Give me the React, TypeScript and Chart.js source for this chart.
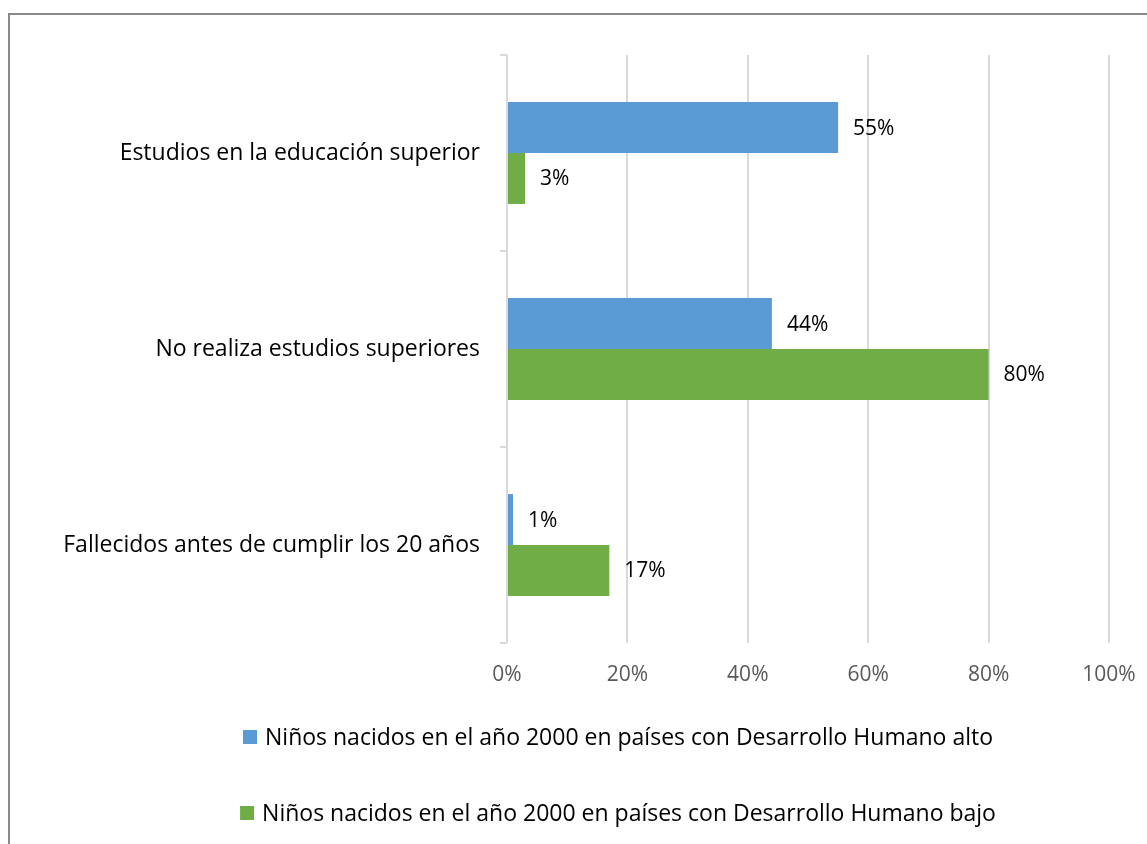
import React, { useEffect, useRef } from "react";
import { Chart, registerables } from "chart.js";

Chart.register(...registerables);

const categories = [
  "Estudios en la educación superior",
  "No realiza estudios superiores",
  "Fallecidos antes de cumplir los 20 años",
];
const seriesNames = [
  "Niños nacidos en el año 2000 en países con Desarrollo Humano alto",
  "Niños nacidos en el año 2000 en países con Desarrollo Humano bajo",
];
const highValues = [55, 44, 1];
const lowValues = [3, 80, 17];
const seriesColors = ["#5B9BD5", "#70AD47"];
const xTicks = [0, 20, 40, 60, 80, 100];

const FONT = '"Open Sans", Lato, sans-serif';

const dataLabelPlugin = {
  id: "dataLabels",
  afterDatasetsDraw(chart: any) {
    const ctx = chart.ctx;
    ctx.save();
    ctx.font = `21px ${FONT}`;
    ctx.fillStyle = "#000000";
    ctx.textAlign = "left";
    ctx.textBaseline = "middle";
    chart.data.datasets.forEach((ds: any, di: number) => {
      const meta = chart.getDatasetMeta(di);
      meta.data.forEach((bar: any, i: number) => {
        ctx.fillText(`${ds.data[i]}%`, bar.x + 15, bar.y + 1);
      });
    });
    ctx.restore();
  },
};

const legendPlugin = {
  id: "customLegend",
  afterDraw(chart: any) {
    const ctx = chart.ctx;
    ctx.save();
    ctx.font = `23px ${FONT}`;
    ctx.textBaseline = "middle";
    ctx.textAlign = "left";
    const rows = [722, 798];
    const centerX = 608;
    chart.data.datasets.forEach((ds: any, i: number) => {
      const label = ds.label as string;
      const tw = ctx.measureText(label).width;
      const total = 14 + 8 + tw;
      const x0 = centerX - total / 2;
      const y = rows[i];
      ctx.fillStyle = ds.backgroundColor;
      ctx.fillRect(x0, y - 7, 14, 14);
      ctx.fillStyle = "#000000";
      ctx.fillText(label, x0 + 22, y + 1);
    });
    ctx.restore();
  },
};

export default function App() {
  const canvasRef = useRef<HTMLCanvasElement | null>(null);

  useEffect(() => {
    if (!canvasRef.current) return;
    const chart = new Chart(canvasRef.current, {
      type: "bar",
      data: {
        labels: categories,
        datasets: [
          {
            label: seriesNames[0],
            data: highValues,
            backgroundColor: seriesColors[0],
            categoryPercentage: 0.52,
            barPercentage: 1,
          },
          {
            label: seriesNames[1],
            data: lowValues,
            backgroundColor: seriesColors[1],
            categoryPercentage: 0.52,
            barPercentage: 1,
          },
        ],
      },
      options: {
        indexAxis: "y",
        animation: false,
        responsive: false,
        devicePixelRatio: 1,
        layout: { padding: { top: 40, right: 38, left: 0, bottom: 0 } },
        plugins: {
          legend: { display: false },
          tooltip: { enabled: false },
        },
        scales: {
          x: {
            min: 0,
            max: 100,
            afterBuildTicks: (scale: any) => {
              scale.ticks = xTicks.map((v) => ({ value: v }));
            },
            afterFit: (scale: any) => {
              scale.height = 201;
              scale.paddingLeft = 0;
              scale.paddingRight = 0;
            },
            grid: {
              color: "#D9D9D9",
              lineWidth: 2,
              drawTicks: false,
            },
            border: { display: false },
            ticks: {
              padding: 19,
              color: "#595959",
              font: { family: FONT, size: 21 },
              callback: (v: any) => `${v}%`,
            },
          },
          y: {
            afterFit: (scale: any) => {
              scale.width = 497;
            },
            grid: {
              offset: true,
              drawOnChartArea: false,
              drawTicks: true,
              tickLength: 7,
              color: "#D9D9D9",
              lineWidth: 2,
            },
            border: { display: false },
            ticks: {
              padding: 20,
              color: "#000000",
              font: { family: FONT, size: 23 },
            },
          },
        },
      },
      plugins: [dataLabelPlugin, legendPlugin],
    });
    return () => chart.destroy();
  }, []);

  return (
    <div
      style={{
        position: "fixed",
        top: 13,
        left: 8,
        right: 0,
        bottom: 0,
        borderTop: "2px solid #898989",
        borderLeft: "2px solid #898989",
        background: "#ffffff",
        overflow: "hidden",
      }}
    >
      <canvas
        ref={canvasRef}
        width={1137}
        height={829}
        style={{ position: "absolute", left: 0, top: 0, width: 1137, height: 829 }}
      />
    </div>
  );
}
